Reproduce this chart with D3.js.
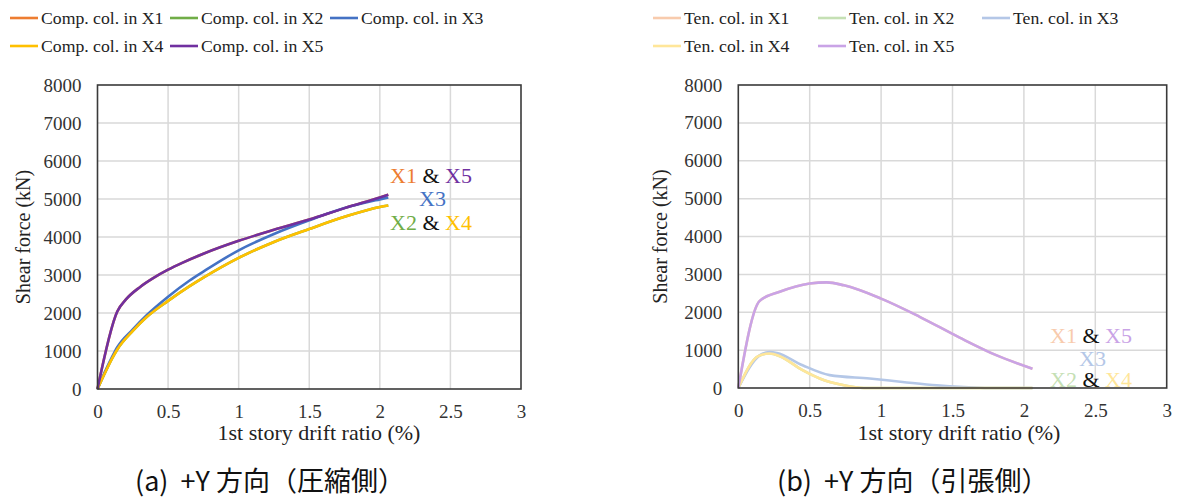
<!DOCTYPE html>
<html><head><meta charset="utf-8">
<script src="https://cdn.jsdelivr.net/npm/d3@7"></script>
<style>
html,body{margin:0;padding:0;background:#fff;}
svg{display:block;}
</style></head>
<body>
<svg id="c" width="1181" height="503"></svg>
<script>
// ---------- data ----------
const xTicks = [0, 0.5, 1, 1.5, 2, 2.5, 3];
const yTicks = [0, 1000, 2000, 3000, 4000, 5000, 6000, 7000, 8000];
const seriesNames = ["X1", "X2", "X3", "X4", "X5"];

// (a) compression side
const compDriftX15 = [0, 0.14, 0.2, 0.3, 0.4, 0.5, 0.6, 0.75, 1.0, 1.25, 1.5, 1.75, 2.0, 2.06];
const compShearX15 = [0, 2040, 2350, 2680, 2930, 3140, 3320, 3560, 3900, 4190, 4460, 4760, 5040, 5110];
const compDriftX3 = [0, 0.05, 0.1, 0.14, 0.25, 0.35, 0.5, 0.65, 0.75, 1.0, 1.25, 1.5, 1.75, 2.0, 2.06];
const compShearX3 = [0, 430, 820, 1100, 1570, 1950, 2430, 2850, 3090, 3650, 4080, 4440, 4760, 4990, 5040];
const compDriftX24 = [0, 0.05, 0.1, 0.14, 0.25, 0.35, 0.5, 0.65, 0.75, 1.0, 1.25, 1.5, 1.75, 2.0, 2.06];
const compShearX24 = [0, 400, 780, 1040, 1530, 1900, 2320, 2700, 2930, 3450, 3870, 4210, 4530, 4790, 4830];

// (b) tension side
const tenDriftX15 = [0, 0.15, 0.29, 0.5, 0.62, 0.74, 1.0, 1.27, 1.55, 1.81, 2.06];
const tenShearX15 = [0, 2300, 2540, 2760, 2790, 2710, 2360, 1880, 1330, 860, 510];
const tenDriftX3 = [0, 0.15, 0.22, 0.27, 0.45, 0.64, 0.92, 1.15, 1.39, 1.58, 1.75, 2.06];
const tenShearX3 = [0, 860, 950, 925, 600, 340, 250, 160, 70, 25, 0, 0];
const tenDriftX24 = [0, 0.14, 0.22, 0.29, 0.45, 0.57, 0.74, 0.88, 2.06];
const tenShearX24 = [0, 840, 910, 840, 470, 250, 70, 0, 0];

const compColors = ["#ED7D31", "#70AD47", "#4472C4", "#FFC000", "#7030A0"];
const tenColors = ["#F8CBAD", "#C5E0B4", "#B4C7E7", "#FFE699", "#C9A3E6"];

// ---------- drawing ----------
const svg = d3.select("#c");
const serif = "'Liberation Serif','Times New Roman',serif";

function zip(xs, ys) { return xs.map((x, i) => ({x: x, y: ys[i]})); }

function panel(opt) {
  const x = d3.scaleLinear().domain([0, 3]).range([opt.x0, opt.x1]);
  const y = d3.scaleLinear().domain([0, 8000]).range([opt.y0, opt.y1]);
  const g = svg.append("g");

  // grid
  g.selectAll(".gx").data(xTicks.slice(1, -1)).enter().append("line")
    .attr("x1", d => x(d)).attr("x2", d => x(d))
    .attr("y1", y(0)).attr("y2", y(8000))
    .attr("stroke", "#d9d9d9").attr("stroke-width", 1.5);
  g.selectAll(".gy").data(yTicks.slice(1, -1)).enter().append("line")
    .attr("y1", d => y(d)).attr("y2", d => y(d))
    .attr("x1", x(0)).attr("x2", x(3))
    .attr("stroke", "#d9d9d9").attr("stroke-width", 1.5);

  // axes labels
  const ax = g.append("g").attr("transform", `translate(0,${y(0)})`)
    .call(d3.axisBottom(x).tickValues(xTicks).tickFormat(d3.format("")).tickSize(0).tickPadding(16));
  const ay = g.append("g").attr("transform", `translate(${x(0)},0)`)
    .call(d3.axisLeft(y).tickValues(yTicks).tickFormat(d3.format("")).tickSize(0).tickPadding(16));
  [ax, ay].forEach(a => {
    a.attr("font-family", serif);
    a.select(".domain").remove();
    a.selectAll("text").attr("font-family", serif).attr("font-size", 19).attr("fill", "#333");
  });

  // lines
  const line = d3.line().x(d => x(d.x)).y(d => y(d.y)).curve(d3.curveMonotoneX);
  opt.series.forEach((s, i) => {
    g.append("path").datum(s).attr("d", line)
      .attr("fill", "none").attr("stroke", opt.colors[i]).attr("stroke-width", 2.6)
      .attr("stroke-linejoin", "round");
  });

  // frame
  g.append("rect").attr("x", x(0)).attr("y", y(8000))
    .attr("width", x(3) - x(0)).attr("height", y(0) - y(8000))
    .attr("fill", "none").attr("stroke", "#3a3a3a").attr("stroke-width", 1.6);

  // axis titles
  g.append("text").attr("transform", `translate(${opt.ytX},${(y(0) + y(8000)) / 2}) rotate(-90)`)
    .attr("text-anchor", "middle").attr("dy", "0.35em")
    .attr("font-family", serif).attr("font-size", 20).attr("fill", "#222")
    .text("Shear force (kN)");
  g.append("text").attr("x", opt.xtX).attr("y", 440)
    .attr("text-anchor", "middle")
    .attr("font-family", serif).attr("font-size", 22).attr("fill", "#222")
    .text("1st story drift ratio (%)");

  // legend
  const rows = [[0, 1, 2], [3, 4]];
  rows.forEach((r, ri) => {
    r.forEach((si, ci) => {
      const lx = opt.legX[ci], ly = 18 + ri * 28;
      g.append("line").attr("x1", lx).attr("x2", lx + 28).attr("y1", ly).attr("y2", ly)
        .attr("stroke", opt.colors[si]).attr("stroke-width", 2.6);
      g.append("text").attr("x", lx + 31).attr("y", ly).attr("dy", "0.33em")
        .attr("font-family", serif).attr("font-size", 17.7).attr("fill", "#222")
        .text(opt.legPrefix + seriesNames[si]);
    });
  });

  // annotations
  const ann = [
    {y: opt.annY[0], parts: [["X1", opt.colors[0]], [" & ", "#111"], ["X5", opt.colors[4]]], x: opt.annX},
    {y: opt.annY[1], parts: [["X3", opt.colors[2]]], x: opt.annX + 29},
    {y: opt.annY[2], parts: [["X2", opt.colors[1]], [" & ", "#111"], ["X4", opt.colors[3]]], x: opt.annX}
  ];
  ann.forEach(a => {
    const t = g.append("text").attr("x", a.x).attr("y", a.y).attr("dy", "0.35em")
      .attr("font-family", serif).attr("font-size", 22)
      .attr("xml:space", "preserve").style("white-space", "pre");
    a.parts.forEach(p => t.append("tspan").attr("fill", p[1]).text(p[0]));
  });

  // caption
  g.append("text").attr("x", opt.capX).attr("y", 491)
    .attr("font-family", "'Noto Sans CJK JP','Noto Sans',sans-serif").attr("font-size", 27).attr("fill", "#111")
    .attr("xml:space", "preserve").style("white-space", "pre")
    .text(opt.caption);
}

panel({
  x0: 97.5, x1: 521, y0: 389, y1: 85,
  colors: compColors,
  series: [zip(compDriftX15, compShearX15), zip(compDriftX24, compShearX24), zip(compDriftX3, compShearX3),
           zip(compDriftX24, compShearX24), zip(compDriftX15, compShearX15)],
  ytX: 23, xtX: 319,
  legX: [10, 170, 330], legPrefix: "Comp. col. in ",
  annX: 390, annY: [175, 198, 222],
  capX: 135, caption: "(a)  +Y 方向（圧縮側）"
});

panel({
  x0: 738.3, x1: 1166.7, y0: 388, y1: 85,
  colors: tenColors,
  series: [zip(tenDriftX15, tenShearX15), zip(tenDriftX24, tenShearX24), zip(tenDriftX3, tenShearX3),
           zip(tenDriftX24, tenShearX24), zip(tenDriftX15, tenShearX15)],
  ytX: 660, xtX: 959,
  legX: [653, 818, 982], legPrefix: "Ten. col. in ",
  annX: 1050, annY: [335, 358, 379],
  capX: 777, caption: "(b)  +Y 方向（引張側）"
});
</script>
</body></html>
